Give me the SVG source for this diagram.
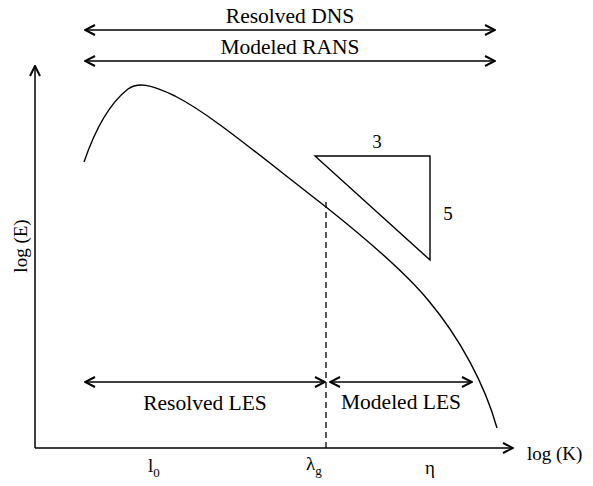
<svg xmlns="http://www.w3.org/2000/svg" width="593" height="486" viewBox="0 0 593 486">
  <style>
    .ln { fill: none; stroke: #000; stroke-width: 1.4; }
    .ax { fill: none; stroke: #000; stroke-width: 1.5; }
    .dash { fill: none; stroke: #000; stroke-width: 1.3; stroke-dasharray: 6 4; }
    text { font-family: 'Liberation Serif', 'Tinos', 'DejaVu Serif', serif; fill: #000; }
    .lbl { font-size: 21.5px; text-anchor: middle; }
    .sm { font-size: 19px; }
    .sub { font-size: 13px; }
  </style>
  <defs>
    <marker id="head" viewBox="0 0 12 12" refX="11" refY="6" markerWidth="12" markerHeight="12" markerUnits="userSpaceOnUse" orient="auto-start-reverse">
      <path d="M1,1 L11,6 L1,11" fill="none" stroke="#000" stroke-width="2"/>
    </marker>
  </defs>

  <rect width="593" height="486" fill="#fff"/>

  <!-- axes -->
  <g id="axes">
    <path class="ax" d="M35,448 L35,66" marker-end="url(#head)"/>
    <path class="ax" d="M35,448 L513,448" marker-end="url(#head)"/>
    <text class="sm" transform="translate(27,246) rotate(-90)" text-anchor="middle">log (E)</text>
    <text class="sm" x="527" y="460">log (K)</text>
  </g>

  <!-- energy spectrum curve -->
  <g id="spectrum">
    <path class="ln" d="M84,162 C95,130 110,103 128,89 C138,82 150,84 175,96 C210,114 250,148 326,207 C370,242 405,272 428,300 C460,338 485,385 497,428"/>
  </g>

  <!-- slope triangle -->
  <g id="slope">
    <path class="ln" d="M315,156 L430,156 L430,260 Z"/>
    <text class="sm" x="377" y="148" text-anchor="middle">3</text>
    <text class="sm" x="448" y="220" text-anchor="middle">5</text>
  </g>

  <!-- filter cutoff -->
  <g id="cutoff">
    <path class="dash" d="M326,202 L326,448"/>
  </g>

  <!-- range arrows -->
  <g id="connectors">
    <path class="ln" d="M85,30 L495,30" marker-start="url(#head)" marker-end="url(#head)"/>
    <path class="ln" d="M85,61 L495,61" marker-start="url(#head)" marker-end="url(#head)"/>
    <path class="ln" d="M85,382 L325,382" marker-start="url(#head)" marker-end="url(#head)"/>
    <path class="ln" d="M330,382 L472,382" marker-start="url(#head)" marker-end="url(#head)"/>
  </g>

  <g id="dns">
    <text class="lbl" x="290" y="23">Resolved DNS</text>
  </g>
  <g id="rans">
    <text class="lbl" x="290" y="54">Modeled RANS</text>
  </g>
  <g id="les-resolved">
    <text class="lbl" x="205" y="410">Resolved LES</text>
  </g>
  <g id="les-modeled">
    <text class="lbl" x="401" y="409">Modeled LES</text>
  </g>

  <!-- scale marks on the wavenumber axis -->
  <g id="scales">
    <text class="sm" x="148" y="472">l<tspan class="sub" dy="5">0</tspan></text>
    <text class="sm" x="306" y="470">λ<tspan class="sub" dy="5">g</tspan></text>
    <text class="sm" x="425" y="474">η</text>
  </g>
</svg>
